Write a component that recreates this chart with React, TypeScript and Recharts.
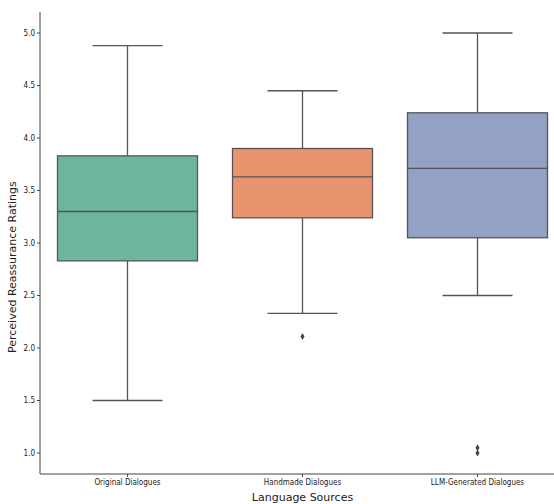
import { Bar, Cell, ComposedChart, Scatter, XAxis, YAxis } from "recharts"

const sources = ["Original Dialogues", "Handmade Dialogues", "LLM-Generated Dialogues"]
const mins = [1.5, 2.33, 2.5]
const q1s = [2.83, 3.24, 3.05]
const medians = [3.3, 3.63, 3.71]
const q3s = [3.83, 3.9, 4.24]
const maxs = [4.88, 4.45, 5.0]
const colors = ["#6db59c", "#e8956f", "#92a1c4"]

const outlierSources = ["Handmade Dialogues", "LLM-Generated Dialogues", "LLM-Generated Dialogues"]
const outlierValues = [2.11, 1.05, 1.0]

const yTicks = [1.0, 1.5, 2.0, 2.5, 3.0, 3.5, 4.0, 4.5, 5.0]

const data = sources.map((name, i) => ({
	name,
	range: [mins[i], maxs[i]],
	min: mins[i],
	q1: q1s[i],
	median: medians[i],
	q3: q3s[i],
	max: maxs[i]
}))

const outliers = outlierSources.map((name, i) => ({ name, value: outlierValues[i] }))

const LINE = "#555555"

const BoxShape = (props: any) => {
	const { x, y, width, height, payload, fill } = props
	const p = payload
	// pixel position of a value, from the bar's min..max pixel span
	const toY = (v: number) => y + ((p.max - v) / (p.max - p.min)) * height
	const cx = x + width / 2
	const capL = x + width / 4
	const capR = x + (width * 3) / 4
	const yq3 = toY(p.q3)
	const yq1 = toY(p.q1)
	const ymed = toY(p.median)
	return (
		<g>
			<line x1={cx} x2={cx} y1={y} y2={yq3} stroke={LINE} strokeWidth={1.3} />
			<line x1={cx} x2={cx} y1={yq1} y2={y + height} stroke={LINE} strokeWidth={1.3} />
			<line x1={capL} x2={capR} y1={y} y2={y} stroke={LINE} strokeWidth={1.3} />
			<line x1={capL} x2={capR} y1={y + height} y2={y + height} stroke={LINE} strokeWidth={1.3} />
			<rect x={x} y={yq3} width={width} height={yq1 - yq3} fill={fill} stroke={LINE} strokeWidth={1.3} />
			<line x1={x} x2={x + width} y1={ymed} y2={ymed} stroke={LINE} strokeWidth={1.3} />
		</g>
	)
}

const Diamond = (props: any) => {
	const { cx, cy } = props
	return <path d={`M${cx},${cy - 3.5} L${cx + 2},${cy} L${cx},${cy + 3.5} L${cx - 2},${cy} Z`} fill="#444" />
}

export default function App() {
	return (
		<div style={{ position: "fixed", left: 0, top: 0, width: 554, height: 504, overflow: "hidden", background: "#fff" }}>
			<ComposedChart
				width={566}
				height={504}
				data={data}
				margin={{ top: 12, right: 1, left: 0, bottom: 0 }}
				barCategoryGap="10%"
			>
				<XAxis
					dataKey="name"
					type="category"
					allowDuplicatedCategory={false}
					stroke="#444"
					tickSize={3}
					height={30}
					tick={{ fontSize: 8, fill: "#222", fontFamily: "DejaVu Sans Condensed, DejaVu Sans" }}
					label={{ value: "Language Sources", position: "insideBottom", offset: 3, fontSize: 11, fill: "#222", fontFamily: "DejaVu Sans" }}
				/>
				<YAxis
					type="number"
					domain={[0.8, 5.2]}
					ticks={yTicks}
					tickFormatter={(v: number) => v.toFixed(1)}
					stroke="#444"
					tickSize={3}
					width={40}
					interval={0}
					tick={{ fontSize: 8, fill: "#222", fontFamily: "DejaVu Sans Condensed, DejaVu Sans" }}
					label={{ value: "Perceived Reassurance Ratings", angle: -90, position: "insideLeft", offset: 12, dy: 110, fontSize: 11, fill: "#222", fontFamily: "DejaVu Sans" }}
				/>
				<XAxis xAxisId="top" orientation="top" dataKey="name" stroke="#444" tick={false} tickLine={false} height={0} />
				<Bar dataKey="range" shape={BoxShape} isAnimationActive={false}>
					{data.map((d, i) => (
						<Cell key={d.name} fill={colors[i]} />
					))}
				</Bar>
				<Scatter data={outliers} dataKey="value" shape={Diamond} isAnimationActive={false} />
			</ComposedChart>
		</div>
	)
}
